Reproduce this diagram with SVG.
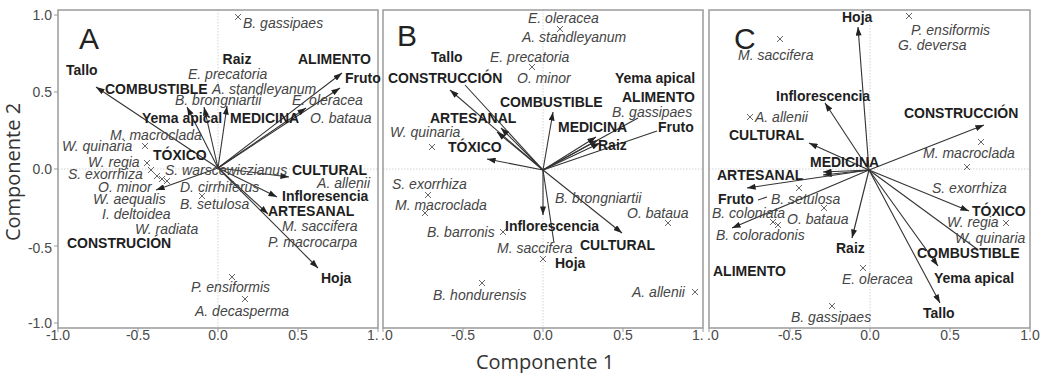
<svg xmlns="http://www.w3.org/2000/svg" width="1044" height="373" viewBox="0 0 1044 373">
<style>
.sp{font-family:"Liberation Sans",Arial,sans-serif;font-style:italic;font-size:14px;fill:#454545}
.lb{font-family:"Liberation Sans",Arial,sans-serif;font-weight:bold;font-size:14px;fill:#1e1e1e}
.tk{font-family:"Liberation Sans",Arial,sans-serif;font-size:14px;fill:#4a4a4a;text-anchor:middle}
.tky{font-family:"Liberation Sans",Arial,sans-serif;font-size:14px;fill:#4a4a4a;text-anchor:end}
.pl{font-family:"Liberation Sans",Arial,sans-serif;font-size:30px;fill:#222}
.ax{font-family:"Open Sans","Liberation Sans",sans-serif;font-size:20px;fill:#333}
.fr{fill:none;stroke:#9a9a9a;stroke-width:1.5}
.zl{stroke:#c8c8c8;stroke-width:0.8;stroke-dasharray:1.5 1.5}
.tm{stroke:#9a9a9a;stroke-width:1}
.ar{stroke:#333;stroke-width:1.1;fill:none;marker-end:url(#ah)}
.ln{stroke:#333;stroke-width:1.1;fill:none}
.x{stroke:#555;stroke-width:0.9}
</style>
<defs>
<marker id="ah" viewBox="0 0 10 7" refX="10" refY="3.5" markerWidth="9" markerHeight="6" markerUnits="userSpaceOnUse" orient="auto"><path d="M0,0 L10,3.5 L0,7 z" fill="#222"/></marker>
<path id="xm" d="M-3,-3 L3,3 M-3,3 L3,-3"/>
</defs>
<rect width="1044" height="373" fill="#fff"/>

<g id="axis-titles">
<text class="ax" x="545" y="369" text-anchor="middle">Componente 1</text>
<text class="ax" x="20" y="172" text-anchor="middle" transform="rotate(-90 20 172)">Componente 2</text>
</g>

<g id="panel-A-axes">
<line class="zl" x1="218" y1="10" x2="218" y2="328"/>
<line class="zl" x1="58" y1="169" x2="378" y2="169"/>
<rect class="fr" x="58" y="10" width="320" height="318"/>
<path class="tm" d="M54,15H58M54,92H58M54,169H58M54,246H58M54,323H58M58,328V332M138,328V332M218,328V332M298,328V332M378,328V332"/>
<text class="tky" x="52" y="20">1.0</text>
<text class="tky" x="52" y="97">0.5</text>
<text class="tky" x="52" y="174">0.0</text>
<text class="tky" x="52" y="253">-0.5</text>
<text class="tky" x="52" y="328">-1.0</text>
<text class="tk" x="58" y="340">-1.0</text>
<text class="tk" x="138" y="340">-0.5</text>
<text class="tk" x="218" y="340">0.0</text>
<text class="tk" x="298" y="340">0.5</text>
<text x="367" y="340" class="tky" style="text-anchor:start">1.</text>
</g>
<g id="panel-B-axes">
<line class="zl" x1="543" y1="10" x2="543" y2="328"/>
<line class="zl" x1="383" y1="169" x2="703" y2="169"/>
<rect class="fr" x="383" y="10" width="320" height="318"/>
<path class="tm" d="M383,328V332M463,328V332M543,328V332M623,328V332M703,328V332"/>
<text x="381" y="340" class="tky" style="text-anchor:start">.0</text>
<text class="tk" x="463" y="340">-0.5</text>
<text class="tk" x="543" y="340">0.0</text>
<text class="tk" x="623" y="340">0.5</text>
<text x="692" y="340" class="tky" style="text-anchor:start">1.</text>
</g>
<g id="panel-C-axes">
<line class="zl" x1="870" y1="10" x2="870" y2="328"/>
<line class="zl" x1="709" y1="169" x2="1030" y2="169"/>
<rect class="fr" x="709" y="10" width="321" height="318"/>
<path class="tm" d="M709,328V332M790,328V332M870,328V332M950,328V332M1030,328V332"/>
<text x="707" y="340" class="tky" style="text-anchor:start">.0</text>
<text class="tk" x="790" y="340">-0.5</text>
<text class="tk" x="870" y="340">0.0</text>
<text class="tk" x="950" y="340">0.5</text>
<text class="tk" x="1030" y="340">1.0</text>
</g>

<g id="connectors">
<g id="conn-A">
<line class="ar" x1="218" y1="168" x2="96" y2="87"/>
<line class="ar" x1="218" y1="168" x2="187" y2="107"/>
<line class="ar" x1="218" y1="168" x2="204" y2="107"/>
<line class="ar" x1="218" y1="168" x2="227" y2="106"/>
<line class="ar" x1="218" y1="168" x2="342" y2="73"/>
<line class="ar" x1="218" y1="168" x2="340" y2="88"/>
<line class="ar" x1="218" y1="168" x2="306" y2="108"/>
<line class="ar" x1="218" y1="168" x2="289" y2="177"/>
<line class="ar" x1="218" y1="168" x2="277" y2="197"/>
<line class="ar" x1="218" y1="168" x2="268" y2="214"/>
<line class="ar" x1="218" y1="168" x2="318" y2="268"/>
<line class="ar" x1="218" y1="168" x2="156" y2="190"/>
</g>
<g id="conn-B">
<line class="ar" x1="543" y1="170" x2="450" y2="90"/>
<line class="ln" x1="543" y1="170" x2="465" y2="85"/>
<line class="ar" x1="543" y1="170" x2="497" y2="132"/>
<line class="ar" x1="543" y1="170" x2="501" y2="128"/>
<line class="ar" x1="543" y1="170" x2="487" y2="159"/>
<line class="ar" x1="543" y1="170" x2="553" y2="112"/>
<line class="ar" x1="543" y1="170" x2="596" y2="137"/>
<line class="ar" x1="543" y1="170" x2="598" y2="140"/>
<line class="ar" x1="543" y1="170" x2="600" y2="143"/>
<line class="ln" x1="543" y1="170" x2="657" y2="131"/>
<line class="ln" x1="543" y1="170" x2="638" y2="118"/>
<line class="ar" x1="543" y1="170" x2="543" y2="215"/>
<line class="ln" x1="543" y1="170" x2="554" y2="243"/>
<line class="ar" x1="543" y1="170" x2="622" y2="233"/>
</g>
<g id="conn-C">
<line class="ar" x1="869" y1="170" x2="858" y2="27"/>
<line class="ar" x1="869" y1="170" x2="825" y2="103"/>
<line class="ar" x1="869" y1="170" x2="809" y2="143"/>
<line class="ar" x1="869" y1="170" x2="984" y2="125"/>
<line class="ar" x1="869" y1="170" x2="823" y2="172"/>
<line class="ar" x1="869" y1="170" x2="823" y2="175"/>
<line class="ar" x1="869" y1="170" x2="747" y2="188"/>
<line class="ar" x1="869" y1="170" x2="732" y2="228"/>
<line class="ar" x1="869" y1="170" x2="852" y2="238"/>
<line class="ar" x1="869" y1="170" x2="969" y2="211"/>
<line class="ln" x1="869" y1="170" x2="977" y2="249"/>
<line class="ar" x1="869" y1="170" x2="938" y2="266"/>
<line class="ar" x1="869" y1="170" x2="940" y2="303"/>
<line class="ln" x1="758" y1="200" x2="767" y2="197"/>
</g>
</g>

<g id="panel-A">
<text class="pl" x="79" y="49">A</text>
<g class="x">
<use href="#xm" x="238" y="17"/><use href="#xm" x="145" y="146"/><use href="#xm" x="147" y="163"/><use href="#xm" x="151" y="170"/><use href="#xm" x="157" y="176"/><use href="#xm" x="162" y="179"/><use href="#xm" x="167" y="181"/><use href="#xm" x="202" y="196"/><use href="#xm" x="232" y="277"/><use href="#xm" x="245" y="299"/>
</g>
<text class="sp" x="243" y="28">B. gassipaes</text>
<text class="lb" x="237" y="64" text-anchor="middle">Raiz</text>
<text class="lb" x="298" y="64">ALIMENTO</text>
<text class="lb" x="66" y="75">Tallo</text>
<text class="sp" x="188" y="79">E. precatoria</text>
<text class="lb" x="345" y="83">Fruto</text>
<text class="lb" x="105" y="94">COMBUSTIBLE</text>
<text class="sp" x="212" y="94">A. standleyanum</text>
<text class="sp" x="175" y="105">B. brongniartii</text>
<text class="sp" x="292" y="105">E. oleracea</text>
<text class="lb" x="142" y="123">Yema apical</text>
<text class="lb" x="230" y="123">MEDICINA</text>
<text class="sp" x="310" y="123">O. bataua</text>
<text class="sp" x="110" y="140">M. macroclada</text>
<text class="sp" x="62" y="151">W. quinaria</text>
<text class="lb" x="153" y="160">TÓXICO</text>
<text class="sp" x="88" y="167">W. regia</text>
<text class="sp" x="165" y="175">S. warscewiczianus</text>
<text class="lb" x="292" y="175">CULTURAL</text>
<text class="sp" x="68" y="179">S. exorrhiza</text>
<text class="sp" x="370" y="188" text-anchor="end">A. allenii</text>
<text class="sp" x="98" y="192">O. minor</text>
<text class="sp" x="180" y="192">D. cirrhiferus</text>
<text class="lb" x="282" y="201">Infloresencia</text>
<text class="sp" x="93" y="204">W. aequalis</text>
<text class="sp" x="180" y="209">B. setulosa</text>
<text class="lb" x="268" y="216">ARTESANAL</text>
<text class="sp" x="102" y="219">I. deltoidea</text>
<text class="sp" x="282" y="231">M. saccifera</text>
<text class="sp" x="135" y="234">W. radiata</text>
<text class="lb" x="67" y="248">CONSTRUCIÓN</text>
<text class="sp" x="268" y="247">P. macrocarpa</text>
<text class="lb" x="321" y="283">Hoja</text>
<text class="sp" x="191" y="292">P. ensiformis</text>
<text class="sp" x="195" y="316">A. decasperma</text>
</g>

<g id="panel-B">
<text class="pl" x="397" y="46">B</text>
<g class="x">
<use href="#xm" x="560" y="29"/><use href="#xm" x="532" y="67"/><use href="#xm" x="432" y="147"/><use href="#xm" x="428" y="195"/><use href="#xm" x="425" y="213"/><use href="#xm" x="668" y="223"/><use href="#xm" x="503" y="232"/><use href="#xm" x="543" y="259"/><use href="#xm" x="482" y="283"/><use href="#xm" x="695" y="292"/>
</g>
<text class="sp" x="528" y="23">E. oleracea</text>
<text class="sp" x="522" y="42">A. standleyanum</text>
<text class="lb" x="431" y="62">Tallo</text>
<text class="sp" x="490" y="62">E. precatoria</text>
<text class="lb" x="388" y="83">CONSTRUCCIÓN</text>
<text class="sp" x="517" y="83">O. minor</text>
<text class="lb" x="615" y="83">Yema apical</text>
<text class="lb" x="622" y="102">ALIMENTO</text>
<text class="lb" x="500" y="107">COMBUSTIBLE</text>
<text class="sp" x="612" y="117">B. gassipaes</text>
<text class="lb" x="430" y="123">ARTESANAL</text>
<text class="lb" x="558" y="132">MEDICINA</text>
<text class="lb" x="658" y="132">Fruto</text>
<text class="sp" x="390" y="137">W. quinaria</text>
<text class="lb" x="448" y="152">TÓXICO</text>
<text class="lb" x="598" y="150">Raiz</text>
<text class="sp" x="392" y="189">S. exorrhiza</text>
<text class="sp" x="555" y="203">B. brongniartii</text>
<text class="sp" x="395" y="210">M. macroclada</text>
<text class="sp" x="627" y="218">O. bataua</text>
<text class="lb" x="505" y="231">Inflorescencia</text>
<text class="sp" x="427" y="237">B. barronis</text>
<text class="lb" x="580" y="250">CULTURAL</text>
<text class="sp" x="497" y="253">M. saccifera</text>
<text class="lb" x="555" y="268">Hoja</text>
<text class="sp" x="433" y="300">B. hondurensis</text>
<text class="sp" x="632" y="297">A. allenii</text>
</g>

<g id="panel-C">
<text class="pl" x="734" y="49">C</text>
<g class="x">
<use href="#xm" x="909" y="16"/><use href="#xm" x="780" y="39"/><use href="#xm" x="750" y="117"/><use href="#xm" x="981" y="142"/><use href="#xm" x="967" y="167"/><use href="#xm" x="799" y="188"/><use href="#xm" x="824" y="208"/><use href="#xm" x="773" y="222"/><use href="#xm" x="778" y="225"/><use href="#xm" x="1006" y="223"/><use href="#xm" x="863" y="268"/><use href="#xm" x="832" y="306"/>
</g>
<text class="lb" x="842" y="22">Hoja</text>
<text class="sp" x="911" y="35">P. ensiformis</text>
<text class="sp" x="898" y="50">G. deversa</text>
<text class="sp" x="738" y="60">M. saccifera</text>
<text class="lb" x="776" y="101">Inflorescencia</text>
<text class="lb" x="904" y="118">CONSTRUCCIÓN</text>
<text class="sp" x="755" y="122">A. allenii</text>
<text class="lb" x="729" y="140">CULTURAL</text>
<text class="sp" x="923" y="158">M. macroclada</text>
<text class="lb" x="810" y="167">MEDICINA</text>
<text class="lb" x="717" y="180">ARTESANAL</text>
<text class="sp" x="932" y="193">S. exorrhiza</text>
<text class="lb" x="718" y="204">Fruto</text>
<text class="sp" x="771" y="204">B. setulosa</text>
<text class="lb" x="972" y="216">TÓXICO</text>
<text class="sp" x="712" y="218">B. coloniata</text>
<text class="sp" x="787" y="224">O. bataua</text>
<text class="sp" x="947" y="227">W. regia</text>
<text class="sp" x="716" y="240">B. coloradonis</text>
<text class="sp" x="955" y="243">W. quinaria</text>
<text class="lb" x="836" y="253">Raiz</text>
<text class="lb" x="917" y="258">COMBUSTIBLE</text>
<text class="lb" x="713" y="276">ALIMENTO</text>
<text class="lb" x="934" y="283">Yema apical</text>
<text class="sp" x="842" y="284">E. oleracea</text>
<text class="lb" x="923" y="318">Tallo</text>
<text class="sp" x="791" y="322">B. gassipaes</text>
</g>
</svg>
